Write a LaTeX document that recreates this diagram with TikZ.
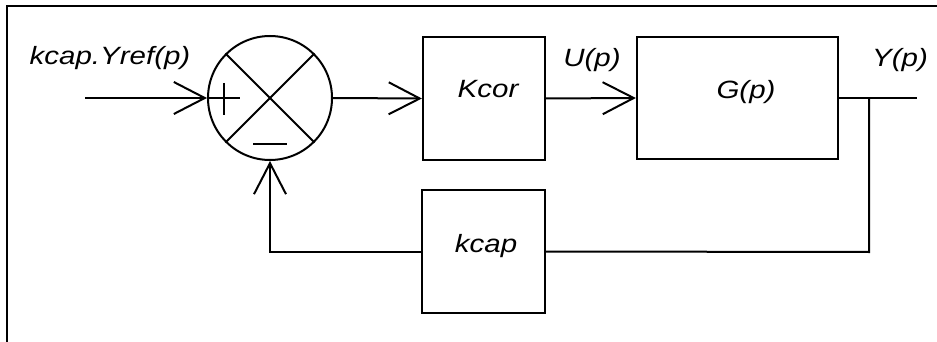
\documentclass[tikz,border=0pt]{standalone}
\usepackage{fontspec}
\setmainfont{Liberation Sans}[FakeStretch=1.18]
\usetikzlibrary{arrows.meta}
\begin{document}
\begin{tikzpicture}[x=1pt,y=-1pt,
  ln/.style={line width=2pt},
  arr/.style={ln,-{Straight Barb[length=31pt,width=32pt,line width=2pt]}},
  blk/.style={draw,line width=2.2pt,rectangle,inner sep=0pt},
  lbl/.style={anchor=base,inner sep=0pt,font=\fontsize{25}{30}\selectfont\itshape}
]
\useasboundingbox (0,0) rectangle (937,342);
% frame
\draw[ln] (7,345) -- (7,6) -- (940,6);
% summing junction
\node[draw,circle,line width=2pt,minimum size=124pt,inner sep=0pt] (sum) at (270,98) {};
\draw[ln] (sum.45) -- (sum.225);
\draw[ln] (sum.135) -- (sum.-45);
\draw[ln] (208,98) -- (240,98);
\draw[ln] (224,83) -- (224,115);
\draw[ln] (253,144) -- (287,144);
% blocks
\node[blk,minimum width=122pt,minimum height=123pt] (kcor) at (484,98.5) {};
\node[blk,minimum width=201pt,minimum height=122pt] (G) at (737.5,98) {};
\node[blk,minimum width=123pt,minimum height=123pt] (kcap) at (483.5,251.5) {};
% texts
\node[lbl] (tin) at (110,65) {kcap.Yref(p)};
\node[lbl] (tkcor) at (488,98) {Kcor};
\node[lbl] (tG) at (746,99) {G(p)};
\node[lbl] (tU) at (592,67) {U(p)};
\node[lbl] (tY) at (900,67) {Y(p)};
\node[lbl] (tkcap) at (486,252) {kcap};
% connectors
\coordinate (in) at (85,98);
\coordinate (out) at (917,98);
\coordinate (br) at (869,98);
\coordinate (brd) at (869,252);
\coordinate (fbl) at (sum.south |- kcap.west);
\draw[arr] (in) -- (sum.west);
\draw[arr] (sum.east) -- (kcor.west);
\draw[arr] (kcor.east) -- (G.west);
\draw[ln] (G.east) -- (out);
\draw[ln] (br) -- (brd) -- (kcap.east);
\draw[arr] (kcap.west) -- (fbl) -- (sum.south);
\end{tikzpicture}
\end{document}
